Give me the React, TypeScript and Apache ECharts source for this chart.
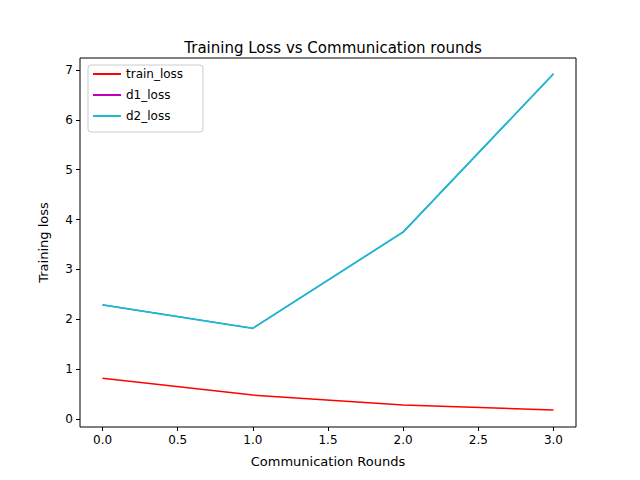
import { useEffect, useRef } from 'react'
import * as echarts from 'echarts'

const rounds = [0, 1, 2, 3]
const trainLoss = [0.82, 0.48, 0.28, 0.18]
const d1Loss = [2.29, 1.82, 3.75, 6.92]
const d2Loss = [2.29, 1.82, 3.75, 6.92]
const xTicks = [0, 0.5, 1, 1.5, 2, 2.5, 3]
const yTicks = [0, 1, 2, 3, 4, 5, 6, 7]

const font = 'DejaVu Sans'

export default function App() {
  const chartRef = useRef<HTMLDivElement>(null)

  useEffect(() => {
    if (!chartRef.current) return
    const chart = echarts.init(chartRef.current, undefined, { renderer: 'svg' })

    const mk = (name: string, vals: number[], color: string, width: number) => ({
      name,
      type: 'line',
      data: rounds.map((r, i) => [r, vals[i]]),
      showSymbol: false,
      lineStyle: { color, width },
      itemStyle: { color },
    })

    chart.setOption({
      animation: false,
      backgroundColor: '#fff',
      textStyle: { fontFamily: font },
      title: {
        text: 'Training Loss vs Communication rounds',
        left: 328,
        textAlign: 'center',
        top: 35,
        textStyle: { fontFamily: font, fontSize: 15, fontWeight: 'normal', color: '#000' },
      },
      grid: {
        left: 80, right: 64, top: 58, bottom: 53,
        show: true, borderColor: '#000', borderWidth: 1, backgroundColor: 'transparent',
      },
      legend: {
        orient: 'vertical',
        left: 93,
        top: 68,
        itemGap: 9,
        itemWidth: 28,
        itemHeight: 2,
        icon: 'rect',
        textStyle: { fontFamily: font, fontSize: 12, color: '#000' },
        padding: [0, 0, 0, 0],
        data: ['train_loss', 'd1_loss', 'd2_loss'],
      },
      graphic: [
        {
          type: 'rect',
          shape: { x: 88, y: 65, width: 115, height: 67, r: 3 },
          style: { fill: 'rgba(255,255,255,0.8)', stroke: '#ccc', lineWidth: 1 },
          z: -1,
        },
      ],
      xAxis: {
        type: 'value',
        min: -0.15,
        max: 3.15,
        name: 'Communication Rounds',
        nameLocation: 'middle',
        nameGap: 28,
        nameTextStyle: { fontFamily: font, fontSize: 13, color: '#000' },
        axisLine: { show: false, onZero: false },
        axisTick: { show: true, customValues: xTicks, length: 4, lineStyle: { color: '#000' } },
        axisLabel: { customValues: xTicks, color: '#000', fontSize: 12, fontFamily: font, margin: 7, formatter: (v: number) => v.toFixed(1) },
        splitLine: { show: false },
      },
      yAxis: {
        type: 'value',
        min: -0.16,
        max: 7.24,
        name: 'Training loss',
        nameLocation: 'middle',
        nameGap: 30,
        nameTextStyle: { fontFamily: font, fontSize: 13, color: '#000' },
        axisLine: { show: false, onZero: false },
        axisTick: { show: true, customValues: yTicks, length: 4, lineStyle: { color: '#000' } },
        axisLabel: { customValues: yTicks, color: '#000', fontSize: 12, fontFamily: font, margin: 7 },
        splitLine: { show: false },
      },
      series: [
        mk('train_loss', trainLoss, '#ff0000', 1.5),
        mk('d1_loss', d1Loss, '#bf00bf', 1.2),
        mk('d2_loss', d2Loss, '#17becf', 1.8),
      ],
    })

    return () => chart.dispose()
  }, [])

  return <div ref={chartRef} style={{ width: 640, height: 480, margin: -8 }} />
}
